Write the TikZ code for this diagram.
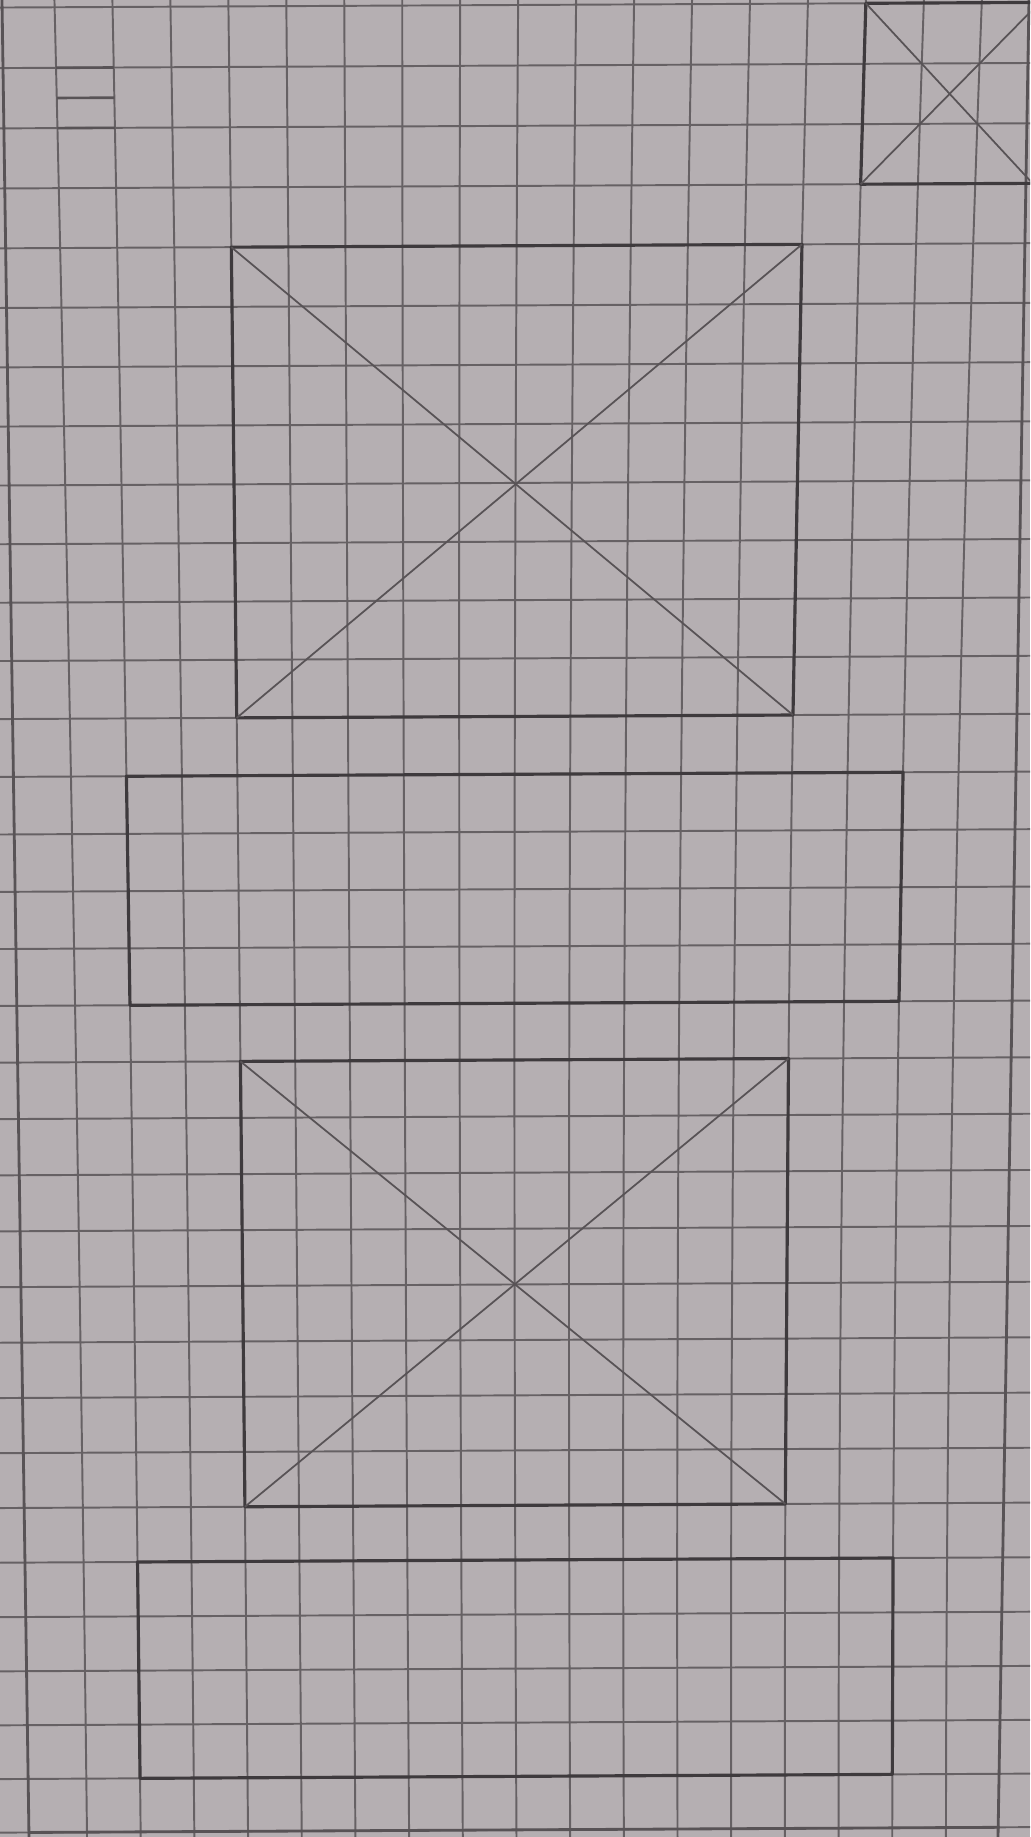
\documentclass[tikz,border=0pt]{standalone}
\usepackage{tikz}
\usetikzlibrary{calc}
\definecolor{PaperGray}{RGB}{181,175,178}
\definecolor{GridGray}{RGB}{102,97,100}
\definecolor{PencilDark}{RGB}{62,58,61}
\definecolor{PencilMid}{RGB}{88,83,86}

\begin{document}
\begin{tikzpicture}[x=0.01cm, y=-0.01cm,
	gl/.style={GridGray, line width=0.55pt},
	bx/.style={PencilDark, line width=0.9pt, line join=round},
	dg/.style={PencilMid, line width=0.5pt},
	mg/.style={PencilMid, line width=0.8pt},
	declare function={
		gy(\m,\n)=5+60.53*\n-0.113*\n*(\n-1)-0.285*(\m-8);
		fx(\m,\y)=55.3+0.01768*\y+(57.75-0.002323*\y)*\m-2*(\m-4)*((\y-150)/1550)*(1-(\y-150)/1550);
		gx(\m,\n)=fx(\m,gy(\m,\n));}]

	% papel
	\useasboundingbox (0,0) rectangle (1030,1837);
	\fill[PaperGray] (0,0) rectangle (1030,1837);
	\clip (0,0) rectangle (1030,1837);

	% cuadricula
	\foreach \k in {0,...,16}
		{\draw[gl] plot[domain=-0.3:32.4, samples=17, smooth, variable=\j] ({gx(\k,\j)},{gy(\k,\j)});}
	\foreach \j in {0,...,32}
		{\draw[gl] ({gx(-2,\j)},{gy(-2,\j)}) -- ({gx(18.5,\j)},{gy(18.5,\j)});}

	% margenes
	\coordinate (ml1) at (2,0);
	\coordinate (ml2) at (29,1837);
	\coordinate (mr1) at (1029,0);
	\coordinate (mr2) at (998,1837);
	\coordinate (mb1) at ({gx(-1.1,32)},{gy(-1.1,32)});
	\coordinate (mb2) at ({gx(17,32)},{gy(17,32)});
	\draw[mg] (ml1) -- (ml2);
	\draw[mg] (mr1) -- (mr2);
	\draw[mg] (mb1) -- (mb2);

	% menu
	\foreach \r/\j in {1/1, 2/1.5, 3/2}{
		\coordinate (mn\r a) at ({gx(0,\j)},{gy(0,\j)});
		\coordinate (mn\r b) at ({gx(1,\j)},{gy(1,\j)});
		\draw[dg, line width=0.75pt] (mn\r a) -- (mn\r b);}

	% cajas
	\foreach \id/\ka/\kb/\ja/\jb in {0/14/17/0/3, 1/3/13/4/12, 2/1/15/13/17, 3/3/13/18/26, 4/1/15/27/31}{
		\coordinate (b\id nw) at ({gx(\ka,\ja)},{gy(\ka,\ja)});
		\coordinate (b\id ne) at ({gx(\kb,\ja)},{gy(\kb,\ja)});
		\coordinate (b\id se) at ({gx(\kb,\jb)},{gy(\kb,\jb)});
		\coordinate (b\id sw) at ({gx(\ka,\jb)},{gy(\ka,\jb)});
		\draw[bx] (b\id nw) -- (b\id ne) -- (b\id se) -- (b\id sw) -- cycle;}

	% imagenes (cruz)
	\foreach \id in {0,1,3}
		{\draw[dg] (b\id nw) -- (b\id se) (b\id ne) -- (b\id sw);}
\end{tikzpicture}
\end{document}
